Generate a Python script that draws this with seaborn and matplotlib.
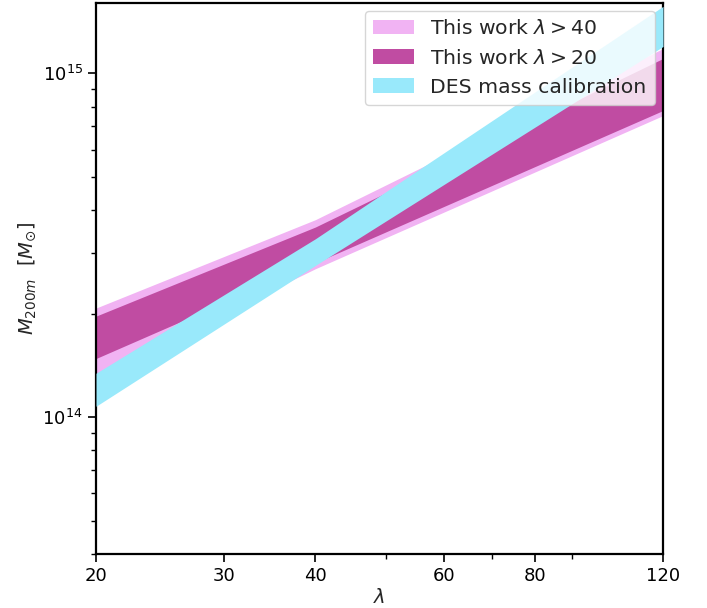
import numpy as np
import matplotlib
matplotlib.use("Agg")
import matplotlib.pyplot as plt
import seaborn as sns
from matplotlib.ticker import FixedLocator, NullFormatter, LogLocator

# Richness grid (pivot at lambda = 40)
richness = [20, 40, 120]

# Mass-richness bands: lower / upper M_200m [M_sun]
lam40_low = [1.32e14, 2.70e14, 7.53e14]
lam40_high = [2.075e14, 3.75e14, 1.18e15]

lam20_low = [1.48e14, 2.81e14, 7.79e14]
lam20_high = [1.966e14, 3.57e14, 1.104e15]

des_low = [1.075e14, 2.76e14, 1.196e15]
des_high = [1.341e14, 3.30e14, 1.565e15]

labels = ["This work $\\lambda > 40$", "This work $\\lambda > 20$", "DES mass calibration"]
colors = ["#f1b3f3", "#c04ca2", "#99e9fb"]

x_major = [20, 30, 40, 60, 80, 120]
x_minor = [50, 70, 90]

sns.set_theme(style="ticks")
plt.rcParams["font.family"] = ["DejaVu Sans"]
plt.rcParams["mathtext.fontset"] = "dejavusans"

fig = plt.figure(figsize=(7.07, 6.08), dpi=100)
ax = fig.add_axes([0.1358, 0.089, 0.802, 0.906])

ax.fill_between(richness, lam40_low, lam40_high, color=colors[0], lw=0, label=labels[0], zorder=1)
ax.fill_between(richness, lam20_low, lam20_high, color=colors[1], lw=0, label=labels[1], zorder=2)
ax.fill_between(richness, des_low, des_high, color=colors[2], lw=0, label=labels[2], zorder=3)

ax.set_xscale("log")
ax.set_yscale("log")
ax.set_xlim(20, 120)
ax.set_ylim(4e13, 1.6e15)

ax.xaxis.set_major_locator(FixedLocator(x_major))
ax.xaxis.set_minor_locator(FixedLocator(x_minor))
ax.set_xticklabels([str(v) for v in x_major])
ax.xaxis.set_minor_formatter(NullFormatter())
ax.yaxis.set_major_locator(LogLocator(base=10, numticks=10))
ax.yaxis.set_minor_locator(LogLocator(base=10, subs=np.arange(2, 10), numticks=10))
ax.yaxis.set_minor_formatter(NullFormatter())

for side in ["top", "right", "left", "bottom"]:
    ax.spines[side].set_visible(True)
    ax.spines[side].set_color("black")
    ax.spines[side].set_linewidth(1.6)

ax.tick_params(which="major", direction="out", length=6, width=1.2, labelsize=13, colors="black")
ax.tick_params(which="minor", direction="out", length=3.5, width=1.0, colors="black")
ax.tick_params(top=False, right=False, which="both")

ax.set_xlabel("$\\lambda$", fontsize=14, labelpad=2)
ax.set_ylabel("$M_{200m}$  $[M_{\\odot}]$", fontsize=14, labelpad=3.5)

ax.legend(loc="upper right", fontsize=14.7, framealpha=0.8, borderaxespad=0.4)

fig.savefig("out.png", dpi=100)
